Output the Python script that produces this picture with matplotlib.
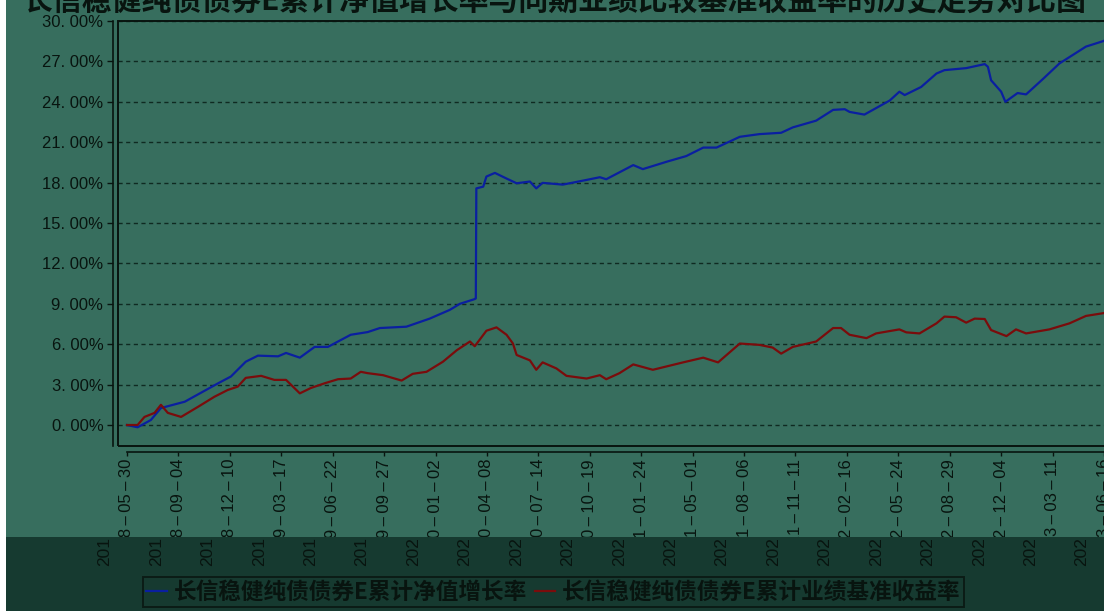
import matplotlib
matplotlib.use("Agg")
import matplotlib.pyplot as plt
import matplotlib.transforms as mtransforms
import matplotlib.dates as mdates
from matplotlib.patches import Rectangle
from matplotlib.lines import Line2D
import pandas as pd

# ---------------- data ----------------
title_text = "长信稳健纯债债券E累计净值增长率与同期业绩比较基准收益率的历史走势对比图"
series_names = ["长信稳健纯债债券E累计净值增长率", "长信稳健纯债债券E累计业绩基准收益率"]

tick_dates = ["2018-05-30", "2018-09-04", "2018-12-10", "2019-03-17", "2019-06-22",
              "2019-09-27", "2020-01-02", "2020-04-08", "2020-07-14", "2020-10-19",
              "2021-01-24", "2021-05-01", "2021-08-06", "2021-11-11", "2022-02-16",
              "2022-05-24", "2022-08-29", "2022-12-04", "2023-03-11", "2023-06-16"]
y_ticks = [0, 3, 6, 9, 12, 15, 18, 21, 24, 27, 30]

nav_dates = ["2018-05-30", "2018-06-19", "2018-07-14", "2018-08-02", "2018-09-16",
             "2018-11-18", "2018-12-12", "2019-01-09", "2019-02-01", "2019-03-11",
             "2019-03-26", "2019-04-21", "2019-05-19", "2019-06-13", "2019-07-26",
             "2019-08-27", "2019-09-19", "2019-11-08", "2019-12-22", "2020-01-29",
             "2020-02-17", "2020-03-16", "2020-03-18", "2020-03-19", "2020-04-01",
             "2020-04-07", "2020-04-23", "2020-05-15", "2020-06-03", "2020-06-28",
             "2020-07-10", "2020-07-22", "2020-08-29", "2020-10-13", "2020-11-07",
             "2020-11-19", "2021-01-09", "2021-01-27", "2021-03-13", "2021-04-19",
             "2021-05-21", "2021-06-15", "2021-07-29", "2021-09-04", "2021-10-15",
             "2021-11-06", "2021-12-20", "2022-01-21", "2022-02-12", "2022-02-21",
             "2022-03-21", "2022-05-08", "2022-05-26", "2022-06-05", "2022-07-06",
             "2022-08-04", "2022-08-19", "2022-09-29", "2022-11-03", "2022-11-09",
             "2022-11-15", "2022-12-04", "2022-12-12", "2023-01-04", "2023-01-20",
             "2023-02-21", "2023-03-24", "2023-05-13", "2023-06-14", "2023-06-20"]
nav_values = [0.00, -0.17, 0.37, 1.26, 1.73,
              3.10, 3.60, 4.70, 5.15, 5.10,
              5.35, 5.00, 5.80, 5.80, 6.70,
              6.90, 7.20, 7.30, 7.90, 8.55,
              9.00, 9.35, 9.40, 17.57, 17.70,
              18.45, 18.72, 18.30, 17.95, 18.08,
              17.57, 17.98, 17.85, 18.20, 18.40,
              18.25, 19.30, 19.00, 19.55, 19.97,
              20.60, 20.60, 21.40, 21.60, 21.70,
              22.10, 22.60, 23.40, 23.45, 23.25,
              23.05, 24.10, 24.75, 24.50, 25.10,
              26.10, 26.35, 26.50, 26.80, 26.60,
              25.60, 24.75, 24.00, 24.65, 24.55,
              25.70, 26.85, 28.10, 28.50, 28.60]

bench_dates = ["2018-05-30", "2018-06-19", "2018-07-02", "2018-07-21", "2018-08-02",
               "2018-08-15", "2018-09-09", "2018-10-11", "2018-11-11", "2018-12-06",
               "2018-12-25", "2019-01-09", "2019-02-07", "2019-03-04", "2019-03-26",
               "2019-04-21", "2019-05-12", "2019-06-07", "2019-07-02", "2019-07-26",
               "2019-08-14", "2019-08-27", "2019-09-25", "2019-10-30", "2019-11-20",
               "2019-12-16", "2020-01-16", "2020-02-11", "2020-03-07", "2020-03-16",
               "2020-04-07", "2020-04-26", "2020-05-15", "2020-05-27", "2020-06-03",
               "2020-06-28", "2020-07-10", "2020-07-22", "2020-08-17", "2020-09-05",
               "2020-10-13", "2020-11-07", "2020-11-19", "2020-12-14", "2021-01-09",
               "2021-02-15", "2021-04-13", "2021-05-21", "2021-06-18", "2021-07-29",
               "2021-09-04", "2021-09-29", "2021-10-15", "2021-11-06", "2021-12-20",
               "2022-01-21", "2022-02-05", "2022-02-21", "2022-03-25", "2022-04-12",
               "2022-05-26", "2022-06-08", "2022-07-03", "2022-08-04", "2022-08-19",
               "2022-09-10", "2022-09-29", "2022-10-15", "2022-11-03", "2022-11-15",
               "2022-12-14", "2023-01-01", "2023-01-20", "2023-03-05", "2023-04-12",
               "2023-05-13", "2023-06-14", "2023-06-20"]
bench_values = [0.00, 0.00, 0.60, 0.90, 1.50,
                0.90, 0.60, 1.35, 2.10, 2.60,
                2.85, 3.50, 3.65, 3.35, 3.35,
                2.35, 2.75, 3.10, 3.40, 3.45,
                3.95, 3.85, 3.70, 3.30, 3.80,
                3.95, 4.70, 5.55, 6.20, 5.85,
                7.00, 7.25, 6.70, 6.05, 5.20,
                4.80, 4.10, 4.65, 4.20, 3.65,
                3.45, 3.70, 3.40, 3.85, 4.50,
                4.10, 4.65, 5.00, 4.65, 6.05,
                5.95, 5.75, 5.30, 5.80, 6.20,
                7.20, 7.20, 6.70, 6.45, 6.80,
                7.10, 6.88, 6.80, 7.55, 8.05,
                8.00, 7.60, 7.90, 7.87, 7.05,
                6.60, 7.10, 6.80, 7.10, 7.55,
                8.10, 8.30, 8.35]

# ---------------- style ----------------
W, H = 1104, 611
BG = "#376E5E"
DARK = "#163A30"
INK = "#08140f"
plt.rcParams["font.family"] = ["Liberation Sans", "DejaVu Sans"]
CJK = ["Noto Sans CJK SC", "DejaVu Sans"]

fig = plt.figure(figsize=(W / 100, H / 100), dpi=100, facecolor=BG)

# plot area in pixels
L, R, T, B = 118, 1104, 21, 446
ax = fig.add_axes([L / W, (H - B) / H, (R - L) / W, (B - T) / H])
ax.set_facecolor(BG)

t_nav = mdates.date2num(pd.to_datetime(nav_dates))
t_bench = mdates.date2num(pd.to_datetime(bench_dates))
t_ticks = mdates.date2num(pd.to_datetime(tick_dates))

ax.plot(t_nav, nav_values, color="#0a1fa0", lw=1.6, zorder=3)
ax.plot(t_bench, bench_values, color="#7a0c0c", lw=1.6, zorder=3)

x0 = t_ticks[0]
days_per_px = 97 / 51.45
ax.set_xlim(x0 - (127 - L) * days_per_px, x0 + (R - 127) * days_per_px)
ax.set_ylim(-(B - 425) / (404 / 30), 30)

ax.set_yticks(y_ticks)
ax.set_yticklabels(["%d. 00%%" % v for v in y_ticks])
ax.set_xticks(t_ticks)
ax.set_xticklabels([d.replace("-", "\u2009\u2013\u2009") for d in tick_dates])

ax.yaxis.grid(True, linestyle=(0, (3, 2.5)), color="#0f2a21", lw=1.0)
ax.xaxis.grid(False)
ax.set_axisbelow(True)

for s in ["top", "right"]:
    ax.spines[s].set_visible(False)
ax.spines["left"].set_position(("outward", 3.6))
ax.spines["bottom"].set_position(("outward", 4.3))
ax.spines["left"].set_color(INK)
ax.spines["bottom"].set_color(INK)
ax.spines["left"].set_linewidth(1.2)
ax.spines["bottom"].set_linewidth(1.2)
ax.spines["bottom"].set_bounds(t_ticks[0], ax.get_xlim()[1])
ax.tick_params(axis="y", direction="out", length=4, width=1, pad=3,
               labelsize=12, colors=INK)
ax.tick_params(axis="x", direction="out", length=3, width=1, pad=2,
               labelsize=12, colors=INK, labelrotation=90)
for lab in ax.get_xticklabels():
    lab.set_verticalalignment("top")
    lab.set_horizontalalignment("center")
    lab.set_rotation_mode("default")

# frame of plot area
ax.add_patch(Rectangle((0, 0), 1.02, 1, transform=ax.transAxes, fill=False,
                       ec=INK, lw=1.4, clip_on=False, zorder=4))

# title (cut at top)
fig.text(22 / W, 1 - 1 / H, title_text, family=CJK, fontsize=21.5, fontweight="bold",
         color=INK, ha="left", va="center")

# dark band at bottom, white strip at left
fig.patches.append(Rectangle((6 / W, 0), 1, (H - 537) / H, transform=fig.transFigure,
                             fc=DARK, ec="none", zorder=1))
fig.patches.append(Rectangle((0, 0), 6 / W, 1, transform=fig.transFigure,
                             fc="white", ec="none", zorder=1))

# shifted year fragments in dark band
trans = mtransforms.blended_transform_factory(ax.transData, fig.transFigure) + \
    mtransforms.ScaledTranslation(-22 / 100, 0, fig.dpi_scale_trans)
for t, d in zip(t_ticks, tick_dates):
    fig.text(t, (H - 566) / H, d[:3], transform=trans, rotation=90, ha="center",
             va="bottom", fontsize=12.5, color=INK, zorder=2)

# legend
handles = [Line2D([], [], color="#0a1fa0", lw=1.6),
           Line2D([], [], color="#7a0c0c", lw=1.6)]
leg = fig.legend(handles, series_names, loc="lower left",
                 bbox_to_anchor=(143 / W, 4 / H), ncol=2, frameon=True,
                 prop={"family": CJK, "size": 16.3, "weight": "bold"},
                 handlelength=0.9, handletextpad=0.3, columnspacing=0.35,
                 borderpad=0.15, borderaxespad=0, fancybox=False)
leg.get_frame().set_facecolor("none")
leg.get_frame().set_edgecolor(INK)
leg.get_frame().set_linewidth(1.4)
leg.set_zorder(5)
for txt in leg.get_texts():
    txt.set_color(INK)

fig.savefig("out.png", dpi=100, facecolor=BG)
